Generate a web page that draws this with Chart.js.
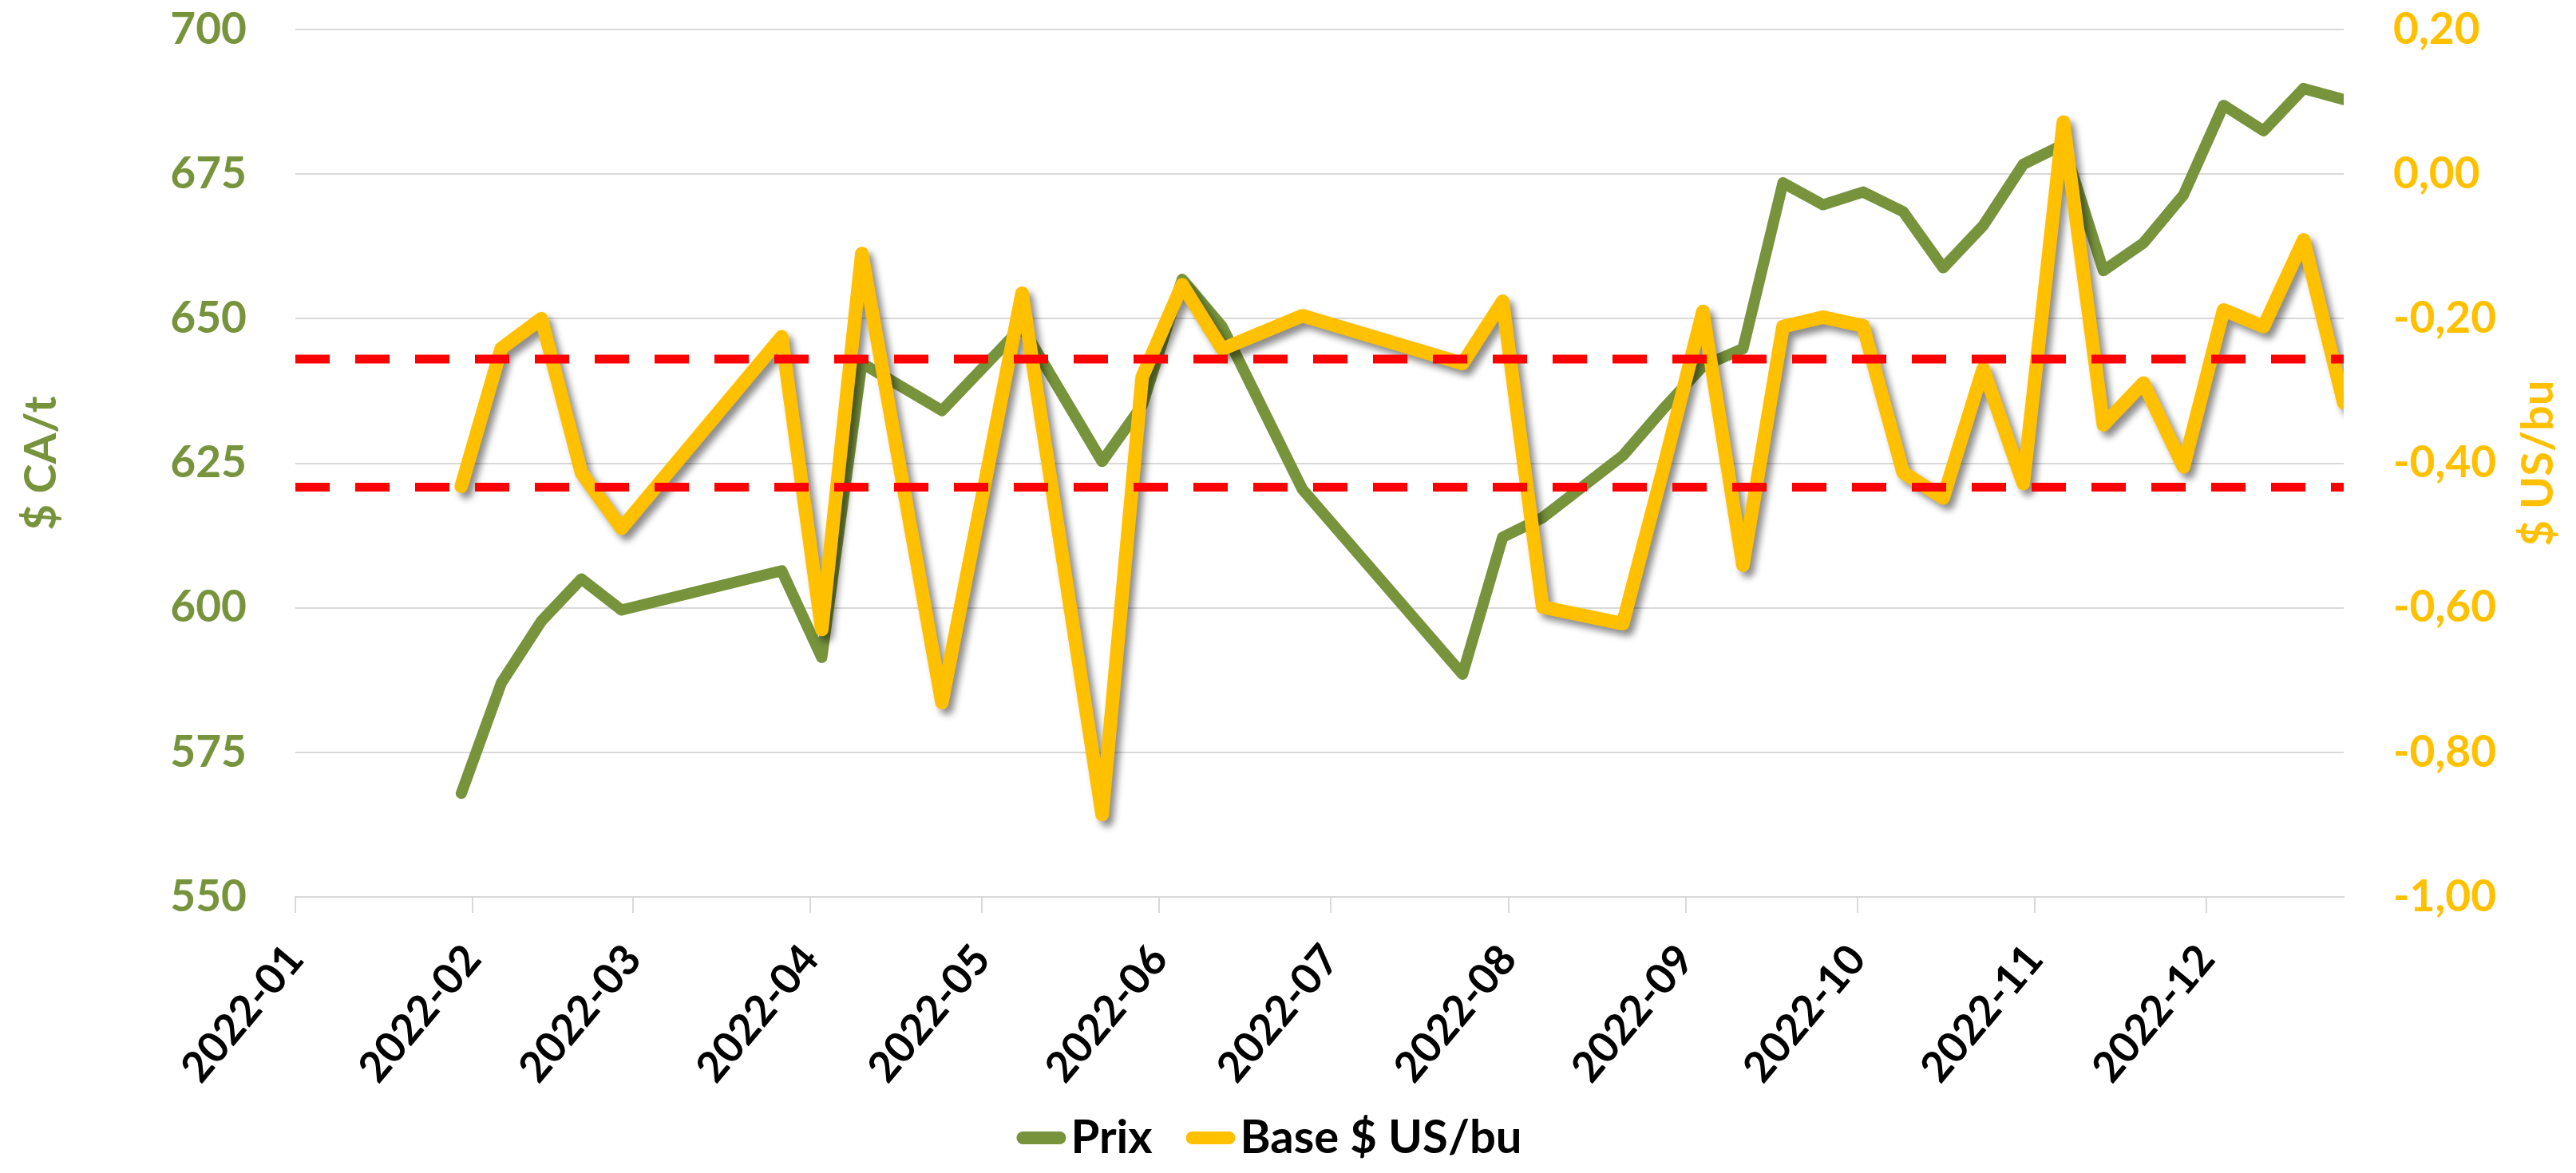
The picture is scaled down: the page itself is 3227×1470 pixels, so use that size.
<!DOCTYPE html>
<html>
<head>
<meta charset="utf-8">
<script src="https://cdn.jsdelivr.net/npm/chart.js@4.4.0/dist/chart.umd.min.js"></script>
<style>
  html, body { margin: 0; padding: 0; background: #ffffff; }
  #wrap { width: 3227px; height: 1470px; }
</style>
</head>
<body>
<div id="wrap"><canvas id="c" width="3227" height="1470"></canvas></div>
<script>
// ---------- DATA ----------
const dates = ['2022-01-30','2022-02-06','2022-02-13','2022-02-20','2022-02-27','2022-03-27','2022-04-03','2022-04-10','2022-04-24','2022-05-08','2022-05-22','2022-05-29','2022-06-05','2022-06-12','2022-06-26','2022-07-24','2022-07-31','2022-08-07','2022-08-21','2022-08-28','2022-09-04','2022-09-11','2022-09-18','2022-09-25','2022-10-02','2022-10-09','2022-10-16','2022-10-23','2022-10-30','2022-11-06','2022-11-13','2022-11-20','2022-11-27','2022-12-04','2022-12-11','2022-12-18','2022-12-25'];
const prix = [567.9,587.0,597.7,605.0,599.6,606.4,591.4,642.3,634.1,648.6,625.3,635.0,656.8,648.6,620.5,588.5,612.2,615.6,626.3,634.3,641.8,644.8,673.5,669.7,671.9,668.5,658.8,666.1,676.7,680.1,658.3,663.1,671.4,686.9,682.5,689.8,687.9];
const base = [-0.432,-0.241,-0.200,-0.413,-0.490,-0.225,-0.630,-0.110,-0.731,-0.165,-0.886,-0.281,-0.153,-0.242,-0.196,-0.262,-0.176,-0.599,-0.622,-0.410,-0.190,-0.541,-0.211,-0.198,-0.210,-0.413,-0.448,-0.269,-0.428,0.072,-0.347,-0.289,-0.405,-0.188,-0.211,-0.091,-0.316];
const seuilHaut = -0.256;   // upper red dashed level ($ US/bu)
const seuilBas = -0.433;    // lower red dashed level ($ US/bu)
const xTickLabels = ['2022-01','2022-02','2022-03','2022-04','2022-05','2022-06','2022-07','2022-08','2022-09','2022-10','2022-11','2022-12'];
const axisStart = '2022-01-01';
const axisEnd = '2022-12-25';
const leftMin = 550, leftMax = 700, leftStep = 25;
const rightMin = -1, rightMax = 0.2, rightStep = 0.2;
const seriesNames = ['Prix', 'Base $ US/bu'];
const leftTitle = '$ CA/t';
const rightTitle = '$ US/bu';

// ---------- STYLE ----------
const GREEN = '#77933C', YELLOW = '#FFC000', RED = '#FF0000', GRID = '#D9D9D9';
const FONT = 'Lato';
const CLEAR = 'rgba(0,0,0,0)';

const toMs = s => { const p = s.split('-').map(Number); return Date.UTC(p[0], p[1] - 1, p[2] || 1); };
const xMin = toMs(axisStart), xMax = toMs(axisEnd);
const tickValues = xTickLabels.map(l => toMs(l + '-01'));
const labelByValue = new Map(tickValues.map((v, i) => [v, xTickLabels[i]]));

const prixData = dates.map((d, i) => ({ x: toMs(d), y: prix[i] }));
const baseData = dates.map((d, i) => ({ x: toMs(d), y: base[i] }));
const hautData = [{ x: xMin, y: seuilHaut }, { x: xMax, y: seuilHaut }];
const basData = [{ x: xMin, y: seuilBas }, { x: xMax, y: seuilBas }];

const shadowPlugin = {
  id: 'lineShadow',
  beforeDatasetDraw(chart, args) {
    if (chart.data.datasets[args.index].shadow) {
      const c = chart.ctx; c.save();
      c.shadowColor = 'rgba(0,0,0,0.45)'; c.shadowBlur = 9; c.shadowOffsetX = 6; c.shadowOffsetY = 7;
    }
  },
  afterDatasetDraw(chart, args) {
    if (chart.data.datasets[args.index].shadow) chart.ctx.restore();
  }
};

const titlePlugin = {
  id: 'axisTitles',
  afterDraw(chart) {
    const c = chart.ctx, a = chart.chartArea;
    const cy = (a.top + a.bottom) / 2;
    [[leftTitle, 52, GREEN], [rightTitle, 3180, YELLOW]].forEach(([txt, x, col]) => {
      c.save();
      c.font = 'bold 56px ' + FONT;
      c.textAlign = 'center'; c.textBaseline = 'middle';
      c.translate(x, cy); c.rotate(-Math.PI / 2);
      c.fillStyle = col; c.fillText(txt, 0, 0);
      c.restore();
    });
  }
};

// Legend drawn like the spreadsheet one: short rounded line, text right after it
const legendPlugin = {
  id: 'sheetLegend',
  afterDraw(chart) {
    const c = chart.ctx;
    const items = chart.data.datasets.slice(0, 2).map(ds => ({ text: ds.label, color: ds.borderColor }));
    c.save();
    c.font = 'bold 58px ' + FONT;
    c.textBaseline = 'middle'; c.textAlign = 'left';
    const mark = 62, gap = 6, itemGap = 42, cy = 1426;
    const widths = items.map(it => mark + gap + c.measureText(it.text).width);
    const total = widths.reduce((a, b) => a + b, 0) + itemGap * (items.length - 1);
    let x = 1590 - total / 2;
    items.forEach((it, i) => {
      c.strokeStyle = it.color; c.lineWidth = 16; c.lineCap = 'round';
      c.beginPath(); c.moveTo(x + 8, cy); c.lineTo(x + mark - 8, cy); c.stroke();
      c.fillStyle = '#000000';
      c.fillText(it.text, x + mark + gap, cy);
      x += widths[i] + itemGap;
    });
    c.restore();
  }
};

function draw() {
  const tickFont = { family: FONT, weight: 'bold', size: 55 };
  new Chart(document.getElementById('c'), {
    type: 'line',
    data: {
      datasets: [
        { label: seriesNames[0], data: prixData, yAxisID: 'y', borderColor: GREEN, backgroundColor: GREEN,
          borderWidth: 14, pointRadius: 0, borderCapStyle: 'round', borderJoinStyle: 'round', tension: 0, order: 2 },
        { label: seriesNames[1], data: baseData, yAxisID: 'y1', borderColor: YELLOW, backgroundColor: YELLOW,
          borderWidth: 17, pointRadius: 0, borderCapStyle: 'round', borderJoinStyle: 'round', tension: 0, order: 1, shadow: true },
        { label: 'haut', data: hautData, yAxisID: 'y1', borderColor: RED, borderWidth: 11, borderDash: [43, 32],
          pointRadius: 0, order: 0 },
        { label: 'bas', data: basData, yAxisID: 'y1', borderColor: RED, borderWidth: 11, borderDash: [43, 32],
          pointRadius: 0, order: 0 }
      ]
    },
    options: {
      responsive: false,
      animation: false,
      events: [],
      layout: { padding: { top: 37, left: 0, right: 0, bottom: 0 } },
      plugins: {
        tooltip: { enabled: false },
        legend: { display: false }
      },
      scales: {
        x: {
          type: 'linear', min: xMin, max: xMax,
          afterFit: s => { s.height = 346; },
          afterBuildTicks: s => { s.ticks = tickValues.map(v => ({ value: v })); },
          ticks: {
            autoSkip: false, minRotation: 50, maxRotation: 50, padding: 28, color: '#000000',
            font: { family: FONT, weight: 'bold', size: 53 },
            callback: v => labelByValue.get(v) || ''
          },
          grid: { drawOnChartArea: false, drawTicks: true, tickLength: 20, color: GRID, lineWidth: 2 },
          border: { color: GRID, width: 2 }
        },
        y: {
          position: 'left', min: leftMin, max: leftMax,
          afterFit: s => { s.width = 370; },
          ticks: { stepSize: leftStep, padding: 4, color: GREEN, font: tickFont },
          grid: { color: GRID, lineWidth: 2, drawTicks: true, tickLength: 57, tickColor: CLEAR },
          border: { display: false }
        },
        y1: {
          position: 'right', min: rightMin, max: rightMax,
          afterFit: s => { s.width = 291; },
          ticks: { stepSize: rightStep, padding: 4, color: YELLOW, font: tickFont,
            callback: v => (Math.abs(v) < 1e-9 ? 0 : v).toFixed(2).replace('.', ',') },
          grid: { drawOnChartArea: false, drawTicks: true, tickLength: 58, tickColor: CLEAR },
          border: { display: false }
        }
      }
    },
    plugins: [shadowPlugin, titlePlugin, legendPlugin]
  });
}

if (document.fonts && document.fonts.load) {
  document.fonts.load('bold 55px ' + FONT).then(draw, draw);
} else { draw(); }
</script>
</body>
</html>
